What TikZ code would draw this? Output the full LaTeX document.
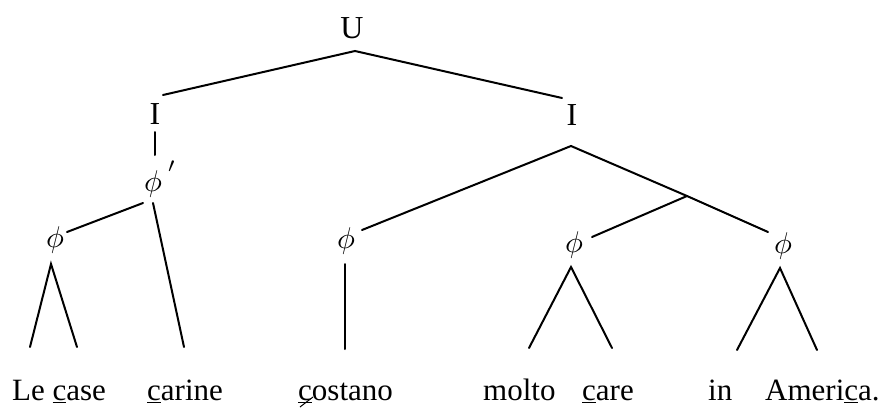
\documentclass[tikz,border=0pt]{standalone}
\usepackage{fontspec}
\setmainfont{Liberation Serif}
\usetikzlibrary{calc}
\begin{document}
\begin{tikzpicture}[x=1pt,y=-1pt,
  edge/.style={line width=2pt, line cap=round},
  lbl/.style={font=\fontsize{32}{36}\selectfont, inner sep=0},
  ph/.style={inner sep=0, font=\fontsize{10}{12}\selectfont, scale=3.0, transform shape},
  word/.style={font=\fontsize{31}{36}\selectfont, inner sep=0, anchor=base west}]
\useasboundingbox (0,0) rectangle (882,407);
% labels
\node[lbl] (U) at (352,28) {U};
\node[lbl] (IL) at (155,114) {I};
\node[lbl] (IR) at (572,115) {I};
\node[ph] (PP) at (153,179) {$\phi$\rlap{\kern2pt\raisebox{2.5pt}{$'$}}};
\node[ph] (PL) at (55,240) {$\phi$};
\node[ph] (PM1) at (346,241) {$\phi$};
\node[ph] (PM2) at (574,245) {$\phi$};
\node[ph] (PR) at (783,246) {$\phi$};
% connector points
\coordinate (aU) at (355,51);
\coordinate (eIL) at (163,95);
\coordinate (eIR) at (562,98);
\coordinate (dIL1) at (155,132);
\coordinate (dIL2) at (155,155);
\coordinate (pl1) at (143,203);
\coordinate (pl2) at (67,232);
\coordinate (pr1) at (153,203);
\coordinate (pr2) at (184,347);
\coordinate (aL) at (51,264);
\coordinate (aLl) at (30,347);
\coordinate (aLr) at (77,347);
\coordinate (aIR) at (571,146);
\coordinate (m1e) at (362,230);
\coordinate (br) at (687,196);
\coordinate (re) at (768,232);
\coordinate (m2e) at (592,237);
\coordinate (v1) at (345,264);
\coordinate (v2) at (345,349);
\coordinate (aM) at (571,267);
\coordinate (aMl) at (529,348);
\coordinate (aMr) at (612,348);
\coordinate (aR) at (780,268);
\coordinate (aRl) at (737,350);
\coordinate (aRr) at (817,350);
% edges
\draw[edge] (eIL) -- (aU) -- (eIR);
\draw[edge] (dIL1) -- (dIL2);
\draw[edge] (pl1) -- (pl2);
\draw[edge] (pr1) -- (pr2);
\draw[edge] (aLl) -- (aL) -- (aLr);
\draw[edge] (m1e) -- (aIR) -- (br) -- (re);
\draw[edge] (br) -- (m2e);
\draw[edge] (v1) -- (v2);
\draw[edge] (aMl) -- (aM) -- (aMr);
\draw[edge] (aRl) -- (aR) -- (aRr);
% words
\node[word] (w1) at (12,400) {Le \underline{c}ase};
\node[word] (w2) at (147,400) {\underline{c}arine};
\node[word] (w3) at (298,400) {\underline{c}ostano};
\node[word] (w4) at (483,400) {molto};
\node[word] (w5) at (582,400) {\underline{c}are};
\node[word] (w6) at (708,400) {in};
\node[word] (w7) at (765,400) {Ameri\underline{c}a.};
\draw[line width=1pt] ($(w3.base west)+(2,7)$) -- ($(w3.base west)+(15,-3)$);
\end{tikzpicture}
\end{document}
